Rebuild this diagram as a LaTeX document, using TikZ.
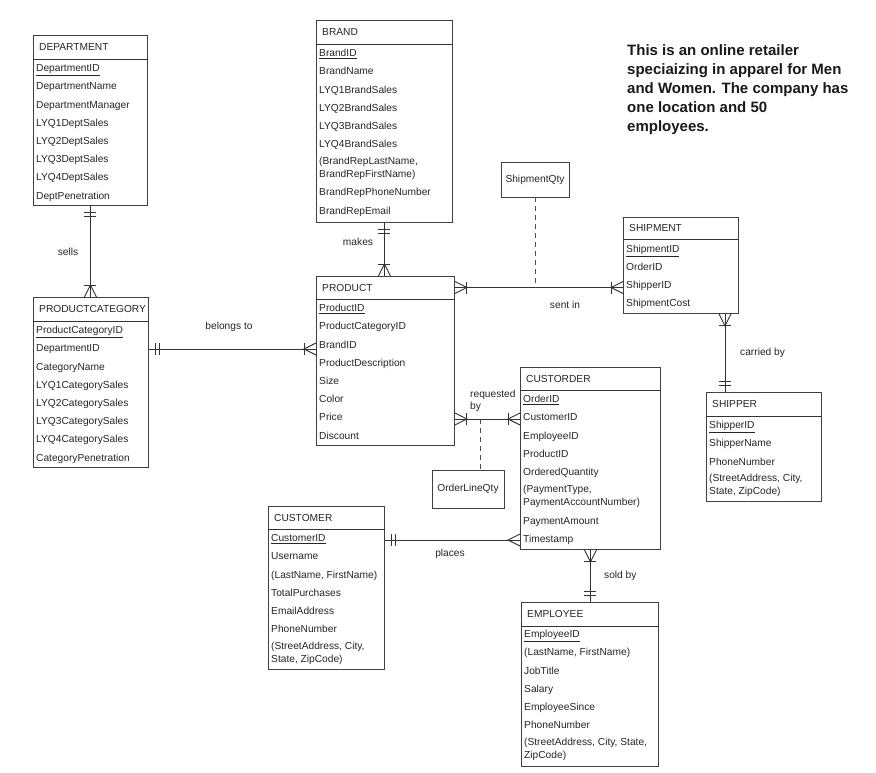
\documentclass[tikz,border=0pt]{standalone}
\usepackage{fontspec}
\setmainfont{Liberation Sans}
\usetikzlibrary{calc}
\tikzset{
  ebox/.style={draw=black!75, line width=0.9pt, inner sep=0pt, anchor=north west},
  attr/.style={anchor=west, inner sep=0pt, font=\fontsize{10.2}{13}\selectfont, text=black!85, text height=7.4pt, text depth=0pt},
  attrtwo/.style={anchor=west, inner sep=0pt, font=\fontsize{10.2}{13}\selectfont, text=black!85, align=left},
  etitle/.style={attr},
  conn/.style={draw=black!80, line width=0.9pt},
  lbl/.style={font=\fontsize{10.2}{12.5}\selectfont, text=black!85, inner sep=0pt, align=left},
  dashconn/.style={draw=black!70, line width=0.9pt, dash pattern=on 5pt off 4pt},
  smallbox/.style={draw=black!75, line width=0.9pt, inner sep=0pt, font=\fontsize{10.2}{12}\selectfont, text=black!85},
  note/.style={anchor=north west, inner sep=0pt, align=left, font=\fontsize{15}{19}\selectfont\bfseries, text=black!90},
}
% entity box: name, x1, y1, x2, y2, header separator y, title
\newcommand\entbox[7]{%
  \node[ebox, minimum width={#4-#2}, minimum height={#5-#3}] (#1) at (#2,#3) {};
  \draw[conn] ($(#1.north west)+(0,{#6-#3})$) -- ($(#1.north east)+(0,{#6-#3})$);
  \node[etitle] (#1-t) at ({#2+6},{(#3+#6)/2}) {#7};}
% crow's foot: point, outward dx, dy
\newcommand\crowfoot[3]{%
  \draw[conn] ($(#1)+({-6*(#3)},{6*(#2)})$) -- ($(#1)+({12*(#2)},{12*(#3)})$) -- ($(#1)+({6*(#3)},{-6*(#2)})$);}
\newcommand\crowbar[3]{\crowfoot{#1}{#2}{#3}%
  \draw[conn] ($(#1)+({12*(#2)-6*(#3)},{12*(#3)+6*(#2)})$) -- ($(#1)+({12*(#2)+6*(#3)},{12*(#3)-6*(#2)})$);}
\newcommand\onlyone[3]{%
  \draw[conn] ($(#1)+({7*(#2)-6*(#3)},{7*(#3)+6*(#2)})$) -- ($(#1)+({7*(#2)+6*(#3)},{7*(#3)-6*(#2)})$)
    ($(#1)+({11*(#2)-6*(#3)},{11*(#3)+6*(#2)})$) -- ($(#1)+({11*(#2)+6*(#3)},{11*(#3)-6*(#2)})$);}

\begin{document}
\begin{tikzpicture}[x=1pt, y=-1pt]
\useasboundingbox[fill=white] (0,0) rectangle (876,773);

% ---------- DEPARTMENT ----------
\entbox{dept}{33}{35}{147}{205}{59}{DEPARTMENT}
\node[attr] (dept-a1) at (36,68) {\underline{DepartmentID}};
\node[attr] (dept-a2) at (36,86.2) {DepartmentName};
\node[attr] (dept-a3) at (36,104.4) {DepartmentManager};
\node[attr] (dept-a4) at (36,122.6) {LYQ1DeptSales};
\node[attr] (dept-a5) at (36,140.8) {LYQ2DeptSales};
\node[attr] (dept-a6) at (36,159) {LYQ3DeptSales};
\node[attr] (dept-a7) at (36,177.2) {LYQ4DeptSales};
\node[attr] (dept-a8) at (36,195.4) {DeptPenetration};

% ---------- BRAND ----------
\entbox{brand}{316}{20}{452}{222}{44}{BRAND}
\node[attr] (brand-a1) at (319,53) {\underline{BrandID}};
\node[attr] (brand-a2) at (319,71.2) {BrandName};
\node[attr] (brand-a3) at (319,89.4) {LYQ1BrandSales};
\node[attr] (brand-a4) at (319,107.6) {LYQ2BrandSales};
\node[attr] (brand-a5) at (319,125.8) {LYQ3BrandSales};
\node[attr] (brand-a6) at (319,144) {LYQ4BrandSales};
\node[attrtwo] (brand-a7) at (319,168.5) {(BrandRepLastName,\\BrandRepFirstName)};
\node[attr] (brand-a8) at (319,192.2) {BrandRepPhoneNumber};
\node[attr] (brand-a9) at (319,210.4) {BrandRepEmail};

% ---------- PRODUCTCATEGORY ----------
\entbox{pc}{33}{297}{148}{467}{321}{PRODUCTCATEGORY}
\node[attr] (pc-a1) at (36,330) {\underline{ProductCategoryID}};
\node[attr] (pc-a2) at (36,348.2) {DepartmentID};
\node[attr] (pc-a3) at (36,366.4) {CategoryName};
\node[attr] (pc-a4) at (36,384.6) {LYQ1CategorySales};
\node[attr] (pc-a5) at (36,402.8) {LYQ2CategorySales};
\node[attr] (pc-a6) at (36,421) {LYQ3CategorySales};
\node[attr] (pc-a7) at (36,439.2) {LYQ4CategorySales};
\node[attr] (pc-a8) at (36,457.4) {CategoryPenetration};

% ---------- PRODUCT ----------
\entbox{prod}{316}{276}{454}{445}{299}{PRODUCT}
\node[attr] (prod-a1) at (319,308) {\underline{ProductID}};
\node[attr] (prod-a2) at (319,326.2) {ProductCategoryID};
\node[attr] (prod-a3) at (319,344.4) {BrandID};
\node[attr] (prod-a4) at (319,362.6) {ProductDescription};
\node[attr] (prod-a5) at (319,380.8) {Size};
\node[attr] (prod-a6) at (319,399) {Color};
\node[attr] (prod-a7) at (319,417.2) {Price};
\node[attr] (prod-a8) at (319,435.4) {Discount};

% ---------- SHIPMENT ----------
\entbox{ship}{623}{217}{738}{313}{239}{SHIPMENT}
\node[attr] (ship-a1) at (626,248.5) {\underline{ShipmentID}};
\node[attr] (ship-a2) at (626,266.7) {OrderID};
\node[attr] (ship-a3) at (626,284.9) {ShipperID};
\node[attr] (ship-a4) at (626,303.1) {ShipmentCost};

% ---------- SHIPPER ----------
\entbox{shipper}{706}{392}{821}{501}{416}{SHIPPER}
\node[attr] (shipper-a1) at (709,425) {\underline{ShipperID}};
\node[attr] (shipper-a2) at (709,443.2) {ShipperName};
\node[attr] (shipper-a3) at (709,461.4) {PhoneNumber};
\node[attrtwo] (shipper-a4) at (709,485.5) {(StreetAddress, City,\\State, ZipCode)};

% ---------- CUSTORDER ----------
\entbox{co}{520}{367}{660}{549}{390}{CUSTORDER}
\node[attr] (co-a1) at (523,399) {\underline{OrderID}};
\node[attr] (co-a2) at (523,417.2) {CustomerID};
\node[attr] (co-a3) at (523,435.4) {EmployeeID};
\node[attr] (co-a4) at (523,453.6) {ProductID};
\node[attr] (co-a5) at (523,471.8) {OrderedQuantity};
\node[attrtwo] (co-a6) at (523,496.3) {(PaymentType,\\PaymentAccountNumber)};
\node[attr] (co-a7) at (523,520.8) {PaymentAmount};
\node[attr] (co-a8) at (523,539) {Timestamp};

% ---------- CUSTOMER ----------
\entbox{cust}{268}{506}{384}{669}{529}{CUSTOMER}
\node[attr] (cust-a1) at (271,538) {\underline{CustomerID}};
\node[attr] (cust-a2) at (271,556.2) {Username};
\node[attr] (cust-a3) at (271,574.4) {(LastName, FirstName)};
\node[attr] (cust-a4) at (271,592.6) {TotalPurchases};
\node[attr] (cust-a5) at (271,610.8) {EmailAddress};
\node[attr] (cust-a6) at (271,629) {PhoneNumber};
\node[attrtwo] (cust-a7) at (271,653.5) {(StreetAddress, City,\\State, ZipCode)};

% ---------- EMPLOYEE ----------
\entbox{emp}{521}{602}{658}{766}{626}{EMPLOYEE}
\node[attr] (emp-a1) at (524,634) {\underline{EmployeeID}};
\node[attr] (emp-a2) at (524,652.2) {(LastName, FirstName)};
\node[attr] (emp-a3) at (524,670.4) {JobTitle};
\node[attr] (emp-a4) at (524,688.6) {Salary};
\node[attr] (emp-a5) at (524,706.8) {EmployeeSince};
\node[attr] (emp-a6) at (524,725) {PhoneNumber};
\node[attrtwo] (emp-a7) at (524,749.5) {(StreetAddress, City, State,\\ZipCode)};

% ---------- associative attribute boxes ----------
\node[smallbox, minimum width=68, minimum height=35] (sq) at (535,179.5) {ShipmentQty};
\node[smallbox, minimum width=72, minimum height=38] (olq) at (468,489) {OrderLineQty};

% ---------- note ----------
\node[note] (note) at (627,44) {This is an online retailer\\speciaizing in apparel for Men\\and Women. The company has\\one location and 50\\employees.};

% ---------- reference coordinates ----------
\coordinate (ybt) at (0,349);
\coordinate (ysi) at (0,287.5);
\coordinate (xcb) at (725,0);
\coordinate (yrb) at (0,419);
\coordinate (xrb) at (480,0);
\coordinate (ypl) at (0,540);

% sells: DEPARTMENT -> PRODUCTCATEGORY
\draw[conn] (dept.south) -- (dept.south |- pc.north);
\onlyone{dept.south}{0}{1}
\crowbar{dept.south |- pc.north}{0}{-1}
\node[lbl] (l-sells) at (68,252) {sells};

% belongs to: PRODUCTCATEGORY -> PRODUCT
\draw[conn] (pc.east |- ybt) -- (prod.west |- ybt);
\onlyone{pc.east |- ybt}{1}{0}
\crowbar{prod.west |- ybt}{-1}{0}
\node[lbl] (l-bt) at (229,327) {belongs to};

% makes: BRAND -> PRODUCT
\draw[conn] (brand.south) -- (brand.south |- prod.north);
\onlyone{brand.south}{0}{1}
\crowbar{brand.south |- prod.north}{0}{-1}
\node[lbl] (l-makes) at (358,242) {makes};

% sent in: PRODUCT -> SHIPMENT
\draw[conn] (prod.east |- ysi) -- (ship.west |- ysi);
\crowbar{prod.east |- ysi}{1}{0}
\crowbar{ship.west |- ysi}{-1}{0}
\draw[dashconn] (sq.south) -- (sq.south |- ysi);
\node[lbl] (l-si) at (565,305) {sent in};

% carried by: SHIPMENT -> SHIPPER
\draw[conn] (ship.south -| xcb) -- (shipper.north -| xcb);
\crowbar{ship.south -| xcb}{0}{1}
\onlyone{shipper.north -| xcb}{0}{-1}
\node[lbl, anchor=west] (l-cb) at (740,353) {carried by};

% requested by: PRODUCT -> CUSTORDER
\draw[conn] (prod.east |- yrb) -- (co.west |- yrb);
\crowbar{prod.east |- yrb}{1}{0}
\crowbar{co.west |- yrb}{-1}{0}
\draw[dashconn] (xrb |- yrb) -- (olq.north -| xrb);
\node[lbl, anchor=west] (l-rb) at (470,401) {requested\\by};

% places: CUSTOMER -> CUSTORDER
\draw[conn] (cust.east |- ypl) -- (co.west |- ypl);
\onlyone{cust.east |- ypl}{1}{0}
\crowfoot{co.west |- ypl}{-1}{0}
\node[lbl] (l-pl) at (450,554) {places};

% sold by: CUSTORDER -> EMPLOYEE
\draw[conn] (co.south) -- (co.south |- emp.north);
\crowbar{co.south}{0}{1}
\onlyone{co.south |- emp.north}{0}{-1}
\node[lbl, anchor=west] (l-sb) at (604,576) {sold by};
\end{tikzpicture}
\end{document}
